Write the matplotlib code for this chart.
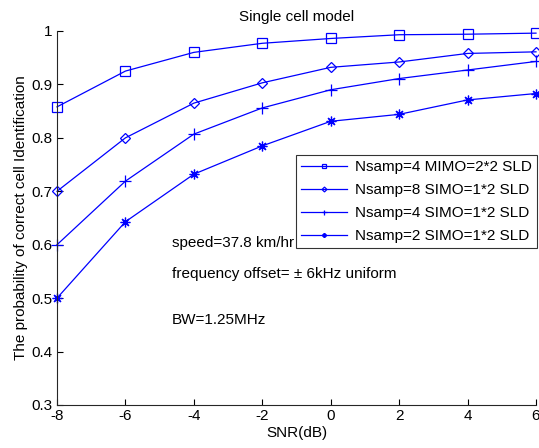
import numpy as np
import matplotlib
matplotlib.use('Agg')
import matplotlib.pyplot as plt

plt.rcParams['font.family'] = ['Liberation Sans', 'DejaVu Sans']
plt.rcParams['axes.unicode_minus'] = False

# data
snr = [-8, -6, -4, -2, 0, 2, 4, 6]
mimo_n4 = [0.858, 0.925, 0.960, 0.977, 0.986, 0.993, 0.994, 0.996]
simo_n8 = [0.700, 0.800, 0.865, 0.903, 0.932, 0.942, 0.958, 0.961]
simo_n4 = [0.600, 0.719, 0.807, 0.856, 0.890, 0.911, 0.927, 0.943]
simo_n2 = [0.500, 0.643, 0.732, 0.785, 0.831, 0.844, 0.871, 0.883]

labels = ['Nsamp=4 MIMO=2*2 SLD',
          'Nsamp=8 SIMO=1*2 SLD',
          'Nsamp=4 SIMO=1*2 SLD',
          'Nsamp=2 SIMO=1*2 SLD']
# matlab style markers: square, diamond, plus, asterisk
markers = ['s', 'D', '+', (8, 2, 0)]
msizes = [7, 5.5, 8, 7]

fig = plt.figure(figsize=(5.39, 4.48), dpi=100)
ax = fig.add_axes([57/539, 43/448, (536-57)/539, (405-31)/448])

for vals, lab, mk, ms in zip([mimo_n4, simo_n8, simo_n4, simo_n2], labels, markers, msizes):
    ax.plot(snr, vals, color='#0000ff', lw=0.9, marker=mk, ms=ms,
            mfc='none', mec='#0000ff', mew=0.9, label=lab, clip_on=False)

ax.set_xlim(-8, 6)
ax.set_ylim(0.3, 1.0)
ax.set_xticks(np.arange(-8, 7, 2))
ax.set_yticks(np.arange(0.3, 1.01, 0.1))
ax.set_yticklabels(['0.3', '0.4', '0.5', '0.6', '0.7', '0.8', '0.9', '1'])
ax.tick_params(direction='in', labelsize=11, length=4, width=0.8, pad=3)
ax.spines['top'].set_visible(False)
ax.spines['right'].set_visible(False)
for s in ['left', 'bottom']:
    ax.spines[s].set_color('#262626')
    ax.spines[s].set_linewidth(0.8)

ax.set_title('Single cell model', fontsize=11, pad=7)
ax.set_xlabel('SNR(dB)', fontsize=11, labelpad=2)
ax.set_ylabel('The probability of correct cell Identification', fontsize=11, labelpad=3)

ax.text(-4.65, 0.603, 'speed=37.8 km/hr', fontsize=11, va='center')
ax.text(-4.65, 0.545, 'frequency offset= \u00b1 6kHz uniform', fontsize=11, va='center')
ax.text(-4.65, 0.459, 'BW=1.25MHz', fontsize=11, va='center')

leg = ax.legend(loc='upper left', bbox_to_anchor=((296-57)/479, (405-155)/374),
                fontsize=11, frameon=True, fancybox=False, edgecolor='black',
                borderpad=0.35, labelspacing=0.58, handlelength=3.0, handletextpad=0.5,
                markerscale=0.45, borderaxespad=0)
leg.get_frame().set_linewidth(0.8)

fig.savefig('out.png', dpi=100)
